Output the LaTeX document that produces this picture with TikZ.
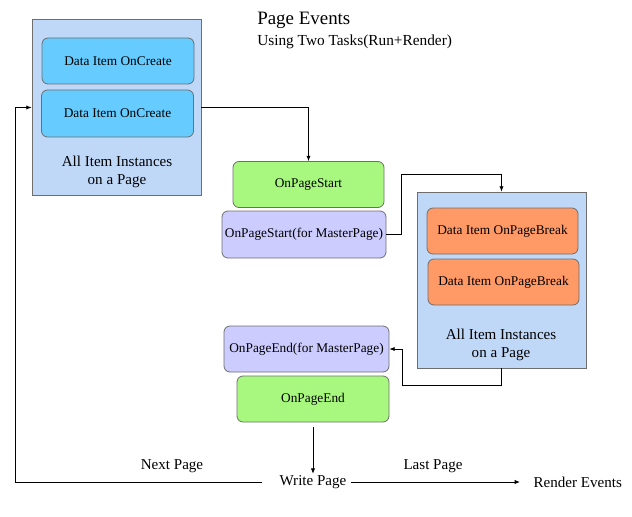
\documentclass[tikz,border=0pt]{standalone}
\usepackage{fontspec}
\setmainfont{Liberation Serif}
\usetikzlibrary{arrows.meta,positioning}

\definecolor{pagebg}{RGB}{192,216,248}
\definecolor{createfill}{RGB}{102,204,255}
\definecolor{breakfill}{RGB}{255,153,102}
\definecolor{startfill}{RGB}{168,248,128}
\definecolor{masterfill}{RGB}{204,204,255}
\definecolor{edgegray}{RGB}{110,110,110}

\tikzset{
    pagebox/.style={draw=edgegray, fill=pagebg, line width=0.6pt, minimum width=126.75pt, minimum height=132pt},
    eventbox/.style={draw=edgegray, rounded corners=4.5pt, line width=0.6pt, minimum width=114pt, minimum height=34.5pt, font=\fontsize{10}{12}\selectfont},
    flow/.style={line width=0.6pt, -{Latex[length=4pt,width=3.2pt]}},
    lbl/.style={font=\fontsize{11.3}{13.5}\selectfont, align=center, inner sep=1pt}
}

\begin{document}
\begin{tikzpicture}[x=0.75pt,y=-0.75pt]
    \useasboundingbox (0,0) rectangle (632,517);

    \node[anchor=west, inner sep=0pt, font=\fontsize{14.2}{16}\selectfont] (title) at (257,20) {Page Events};
    \node[anchor=west, inner sep=0pt, font=\fontsize{11.5}{13}\selectfont] (subtitle) at (257,42) {Using Two Tasks(Run+Render)};

    \node[pagebox] (create) at (116.5,107.5) {};
    \node[eventbox, fill=createfill] (createA) at (118,61) {Data Item OnCreate};
    \node[eventbox, fill=createfill, minimum height=35.25pt] (createB) at (117.5,113.5) {Data Item OnCreate};
    \node[lbl] (createlbl) at (117,172) {All Item Instances\\on a Page};

    \node[eventbox, fill=startfill, minimum width=113.25pt] (start) at (308.5,184.5) {OnPageStart};
    \node[eventbox, fill=masterfill, minimum width=123pt, minimum height=35.25pt, inner sep=1pt] (startmaster) at (304,234.5) {OnPageStart(for MasterPage)};

    \node[pagebox] (break) at (501.5,280) {};
    \node[eventbox, fill=breakfill, minimum width=113.25pt] (breakA) at (502.5,231) {Data Item OnPageBreak};
    \node[eventbox, fill=breakfill, minimum width=113.25pt] (breakB) at (503.5,282) {Data Item OnPageBreak};
    \node[lbl] (breaklbl) at (501,345) {All Item Instances\\on a Page};

    \node[eventbox, fill=masterfill, minimum width=123.75pt, inner sep=1pt] (endmaster) at (306.5,349) {OnPageEnd(for MasterPage)};
    \node[eventbox, fill=startfill] (end) at (313,399) {OnPageEnd};

    \node[lbl] (write) at (313,482) {Write Page};
    \node[lbl, anchor=west] (render) at (532,482) {Render Events};
    \node[lbl] (nextlbl) at (172,466) {Next Page};
    \node[lbl] (lastlbl) at (433,466) {Last Page};

    \coordinate (jogup) at (401,174);
    \coordinate (jogdown) at (402,385);
    \coordinate (loop) at (15,482);

    \draw[flow] (create.east) -| (start.north);
    \draw[flow] (startmaster.east) -| (jogup) -| (break.north);
    \draw[flow] (break.south) |- (jogdown) |- (endmaster.east);
    \draw[flow, shorten <=3.5pt] (end.south) -- (write.north);
    \draw[flow, shorten <=12pt] (write.west) -- (loop) |- (create.west);
    \draw[flow, shorten <=2pt, shorten >=9pt] (write.east) -- (render.west);

\end{tikzpicture}
\end{document}
